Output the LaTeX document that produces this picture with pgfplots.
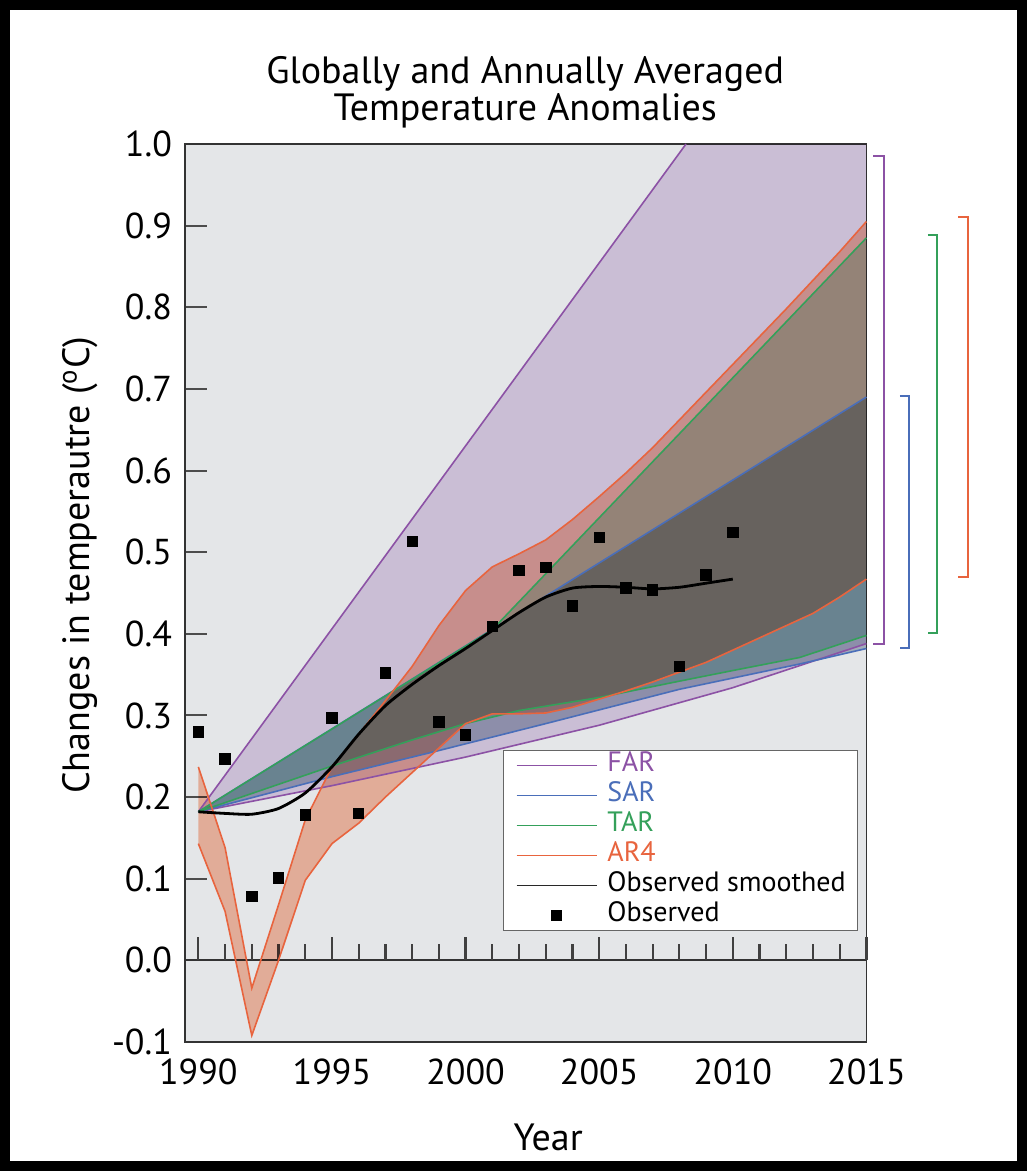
\documentclass[border=0pt]{standalone}
\usepackage{fontspec}
\setmainfont{PT Sans}
\usepackage{pgfplots}
\pgfplotsset{compat=1.18}
\definecolor{bgc}{RGB}{228,230,232}
\definecolor{farc}{RGB}{140,82,165}
\definecolor{sarc}{RGB}{74,110,185}
\definecolor{tarc}{RGB}{52,160,90}
\definecolor{arfc}{RGB}{232,100,62}
\definecolor{obsc}{RGB}{40,40,40}
\definecolor{farf}{RGB}{227,211,235}
\definecolor{sarf}{RGB}{179,191,204}
\definecolor{tarf}{RGB}{190,237,217}
\definecolor{arff}{RGB}{252,191,168}
\pgfplotsset{
  farimg/.style={legend image code/.code={\pgfsetstrokecolor{farc}\pgfsetlinewidth{0.8pt}\pgfpathmoveto{\pgfpointorigin}\pgfpathlineto{\pgfpoint{40pt}{0pt}}\pgfusepath{stroke}}},
  sarimg/.style={legend image code/.code={\pgfsetstrokecolor{sarc}\pgfsetlinewidth{0.8pt}\pgfpathmoveto{\pgfpointorigin}\pgfpathlineto{\pgfpoint{40pt}{0pt}}\pgfusepath{stroke}}},
  tarimg/.style={legend image code/.code={\pgfsetstrokecolor{tarc}\pgfsetlinewidth{0.8pt}\pgfpathmoveto{\pgfpointorigin}\pgfpathlineto{\pgfpoint{40pt}{0pt}}\pgfusepath{stroke}}},
  arimg/.style={legend image code/.code={\pgfsetstrokecolor{arfc}\pgfsetlinewidth{0.8pt}\pgfpathmoveto{\pgfpointorigin}\pgfpathlineto{\pgfpoint{40pt}{0pt}}\pgfusepath{stroke}}},
  smimg/.style={legend image code/.code={\pgfsetstrokecolor{obsc}\pgfsetlinewidth{0.8pt}\pgfpathmoveto{\pgfpointorigin}\pgfpathlineto{\pgfpoint{40pt}{0pt}}\pgfusepath{stroke}}},
  obsimg/.style={legend image code/.code={\path[draw=none] (0pt,0pt) -- (40pt,0pt); \path[draw=none] plot[mark=square*, mark size=2.3pt, mark options={draw=black, fill=black}] coordinates {(20pt,0pt)};}},
}
\begin{document}
\begin{tikzpicture}
\fill[black] (0pt,0pt) rectangle (513.5pt,585.5pt);
\fill[white] (5pt,5pt) rectangle (508.5pt,580.5pt);
\begin{axis}[
  at={(92.5pt,64.5pt)}, anchor=south west,
  scale only axis, width=340.7pt, height=449pt,
  xmin=1989.5, xmax=2015, ymin=-0.1, ymax=1.0,
  clip=false,
  axis background/.style={fill=bgc},
  axis line style={black!80, line width=0.9pt},
  xtick={1990,1995,2000,2005,2010,2015}, xtick pos=bottom, xtick style={draw=none},
  ytick={-0.1,0,0.1,0.2,0.3,0.4,0.5,0.6,0.7,0.8,0.9,1.0}, ytick pos=left, ytick align=inside,
  ytick style={black!70, line width=1pt}, major tick length=11pt,
  xticklabel style={yshift=-5pt},
  /pgf/number format/1000 sep={},
  /pgf/number format/assume math mode=true,
  yticklabel style={xshift=-3pt, /pgf/number format/.cd, fixed, fixed zerofill, precision=1},
  tick label style={font=\fontsize{18}{18}\selectfont},
  title={Globally and Annually Averaged\\Temperature Anomalies},
  title style={at={(0.4993,1.0445)}, anchor=center, align=center, font=\fontsize{19}{17.5}\selectfont},
  xlabel={Year},
  xlabel style={at={(0.533,-0.1058)}, anchor=center, font=\fontsize{19}{19}\selectfont},
  ylabel={Changes in temperautre (\textsuperscript{o}C)},
  ylabel style={at={(-0.1542,0.531)}, anchor=center, font=\fontsize{19}{19}\selectfont},
  legend cell align=left,
  legend style={at={(0.467,0.3252)}, anchor=north west, draw=black!60, fill=white,
    line width=0.6pt, inner xsep=6pt, inner ysep=0pt, row sep=0pt,
    font=\fontsize{14}{15}\selectfont,
    nodes={inner sep=0pt, text height=10.5pt, text depth=4.5pt},
    /tikz/every odd column/.append style={column sep=5pt}},
]
% zero line and its ticks
\addplot[forget plot, black!80, line width=1pt] coordinates {(1989.5,0) (2015,0)};
\addplot[forget plot, black!75, line width=1.1pt, unbounded coords=jump] coordinates {
(1990,0)(1990,0.0282)(1990,nan) (1991,0)(1991,0.0196)(1991,nan) (1992,0)(1992,0.0196)(1992,nan)
(1993,0)(1993,0.0196)(1993,nan) (1994,0)(1994,0.0196)(1994,nan) (1995,0)(1995,0.0282)(1995,nan)
(1996,0)(1996,0.0196)(1996,nan) (1997,0)(1997,0.0196)(1997,nan) (1998,0)(1998,0.0196)(1998,nan)
(1999,0)(1999,0.0196)(1999,nan) (2000,0)(2000,0.0282)(2000,nan) (2001,0)(2001,0.0196)(2001,nan)
(2002,0)(2002,0.0196)(2002,nan) (2003,0)(2003,0.0196)(2003,nan) (2004,0)(2004,0.0196)(2004,nan)
(2005,0)(2005,0.0282)(2005,nan) (2006,0)(2006,0.0196)(2006,nan) (2007,0)(2007,0.0196)(2007,nan)
(2008,0)(2008,0.0196)(2008,nan) (2009,0)(2009,0.0196)(2009,nan) (2010,0)(2010,0.0282)(2010,nan)
(2011,0)(2011,0.0196)(2011,nan) (2012,0)(2012,0.0196)(2012,nan) (2013,0)(2013,0.0196)(2013,nan)
(2014,0)(2014,0.0196)(2014,nan) (2015,0)(2015,0.0282)};
% band fills
\addplot[forget plot, draw=none, fill=farf, blend mode=multiply] coordinates {
(1990,0.182)(2008.25,1.0)(2015,1.0)(2015,0.388)(2010,0.334)(2005,0.288)(2000,0.249)(1995,0.214)(1990,0.182)};
\addplot[forget plot, draw=none, fill=sarf, blend mode=multiply] coordinates {
(1990,0.182)(2015,0.69)(2015,0.382)(2012.5,0.363)(2008,0.332)(2003,0.29)(1999,0.257)(1995,0.225)(1990,0.182)};
\addplot[forget plot, draw=none, fill=tarf, blend mode=multiply] coordinates {
(1990,0.182)(2001,0.405)(2015,0.885)(2015,0.398)(2012.5,0.371)(2010,0.355)(2008,0.342)(2005,0.322)(2002,0.306)(2000,0.29)(1998,0.27)(1995,0.238)(1990,0.182)};
\addplot[forget plot, draw=none, fill=arff, blend mode=multiply] coordinates {
(1990,0.237)(1991,0.138)(1992,-0.034)(1993,0.068)(1994,0.172)(1995,0.237)(1996,0.277)(1997,0.318)(1998,0.36)(1999,0.41)(2000,0.453)(2001,0.482)(2002,0.498)(2003,0.515)(2004,0.54)(2005,0.568)(2006,0.597)(2007,0.628)(2008,0.662)(2009,0.696)(2010,0.73)(2011,0.764)(2012,0.798)(2013,0.833)(2014,0.868)(2015,0.905)
(2015,0.467)(2014,0.445)(2013,0.425)(2012,0.41)(2011,0.395)(2010,0.38)(2009,0.365)(2008,0.353)(2007,0.341)(2006,0.33)(2005,0.32)(2004,0.31)(2003,0.303)(2002,0.302)(2001,0.302)(2000,0.29)(1999,0.26)(1998,0.23)(1997,0.2)(1996,0.168)(1995,0.143)(1994,0.098)(1993,0.0)(1992,-0.092)(1991,0.06)(1990,0.143)};
% band edges
\addplot[forget plot, farc, line width=0.8pt] coordinates {(1990,0.182)(2008.25,1.0)};
\addplot[forget plot, farc, line width=0.8pt] coordinates {(1990,0.182)(1995,0.214)(2000,0.249)(2005,0.288)(2010,0.334)(2015,0.388)};
\addplot[forget plot, sarc, line width=0.8pt] coordinates {(1990,0.182)(2015,0.69)};
\addplot[forget plot, sarc, line width=0.8pt] coordinates {(1990,0.182)(1995,0.225)(1999,0.257)(2003,0.29)(2008,0.332)(2012.5,0.363)(2015,0.382)};
\addplot[forget plot, tarc, line width=0.8pt] coordinates {(1990,0.182)(2001,0.405)(2015,0.885)};
\addplot[forget plot, tarc, line width=0.8pt] coordinates {(1990,0.182)(1995,0.238)(1998,0.27)(2000,0.29)(2002,0.306)(2005,0.322)(2008,0.342)(2010,0.355)(2012.5,0.371)(2015,0.398)};
\addplot[forget plot, arfc, line width=0.8pt] coordinates {(1990,0.237)(1991,0.138)(1992,-0.034)(1993,0.068)(1994,0.172)(1995,0.237)(1996,0.277)(1997,0.318)(1998,0.36)(1999,0.41)(2000,0.453)(2001,0.482)(2002,0.498)(2003,0.515)(2004,0.54)(2005,0.568)(2006,0.597)(2007,0.628)(2008,0.662)(2009,0.696)(2010,0.73)(2011,0.764)(2012,0.798)(2013,0.833)(2014,0.868)(2015,0.905)};
\addplot[forget plot, arfc, line width=0.8pt] coordinates {(1990,0.143)(1991,0.06)(1992,-0.092)(1993,0.0)(1994,0.098)(1995,0.143)(1996,0.168)(1997,0.2)(1998,0.23)(1999,0.26)(2000,0.29)(2001,0.302)(2002,0.302)(2003,0.303)(2004,0.31)(2005,0.32)(2006,0.33)(2007,0.341)(2008,0.353)(2009,0.365)(2010,0.38)(2011,0.395)(2012,0.41)(2013,0.425)(2014,0.445)(2015,0.467)};
% observed smoothed
\addplot[forget plot, black, line width=1.4pt, smooth, tension=0.4] coordinates {(1990,0.182)(1991,0.180)(1992,0.179)(1993,0.186)(1994,0.205)(1995,0.237)(1996,0.277)(1997,0.312)(1998,0.338)(1999,0.361)(2000,0.382)(2001,0.404)(2002,0.426)(2003,0.445)(2004,0.456)(2005,0.458)(2006,0.457)(2007,0.455)(2008,0.457)(2009,0.462)(2010,0.467)};
% observed
\addplot[forget plot, only marks, mark=square*, mark size=2.6pt, black] coordinates {(1990,0.280)(1991,0.247)(1992,0.078)(1993,0.101)(1994,0.178)(1995,0.297)(1996,0.180)(1997,0.352)(1998,0.513)(1999,0.292)(2000,0.276)(2001,0.409)(2002,0.478)(2003,0.481)(2004,0.434)(2005,0.518)(2006,0.456)(2007,0.454)(2008,0.360)(2009,0.472)(2010,0.524)};
% range brackets
\addplot[forget plot, farc, line width=1pt] coordinates {(2015.26,0.985)(2015.65,0.985)(2015.65,0.388)(2015.26,0.388)};
\addplot[forget plot, sarc, line width=1pt] coordinates {(2016.25,0.691)(2016.60,0.691)(2016.60,0.383)(2016.25,0.383)};
\addplot[forget plot, tarc, line width=1pt] coordinates {(2017.30,0.888)(2017.65,0.888)(2017.65,0.401)(2017.30,0.401)};
\addplot[forget plot, arfc, line width=1pt] coordinates {(2018.44,0.91)(2018.81,0.91)(2018.81,0.47)(2018.44,0.47)};
% legend
\addlegendimage{farimg}
\addlegendentry{\textcolor{farc}{FAR}}
\addlegendimage{sarimg}
\addlegendentry{\textcolor{sarc}{SAR}}
\addlegendimage{tarimg}
\addlegendentry{\textcolor{tarc}{TAR}}
\addlegendimage{arimg}
\addlegendentry{\textcolor{arfc}{AR4}}
\addlegendimage{smimg}
\addlegendentry{Observed smoothed}
\addlegendimage{obsimg}
\addlegendentry{Observed}
\end{axis}
\end{tikzpicture}
\end{document}
